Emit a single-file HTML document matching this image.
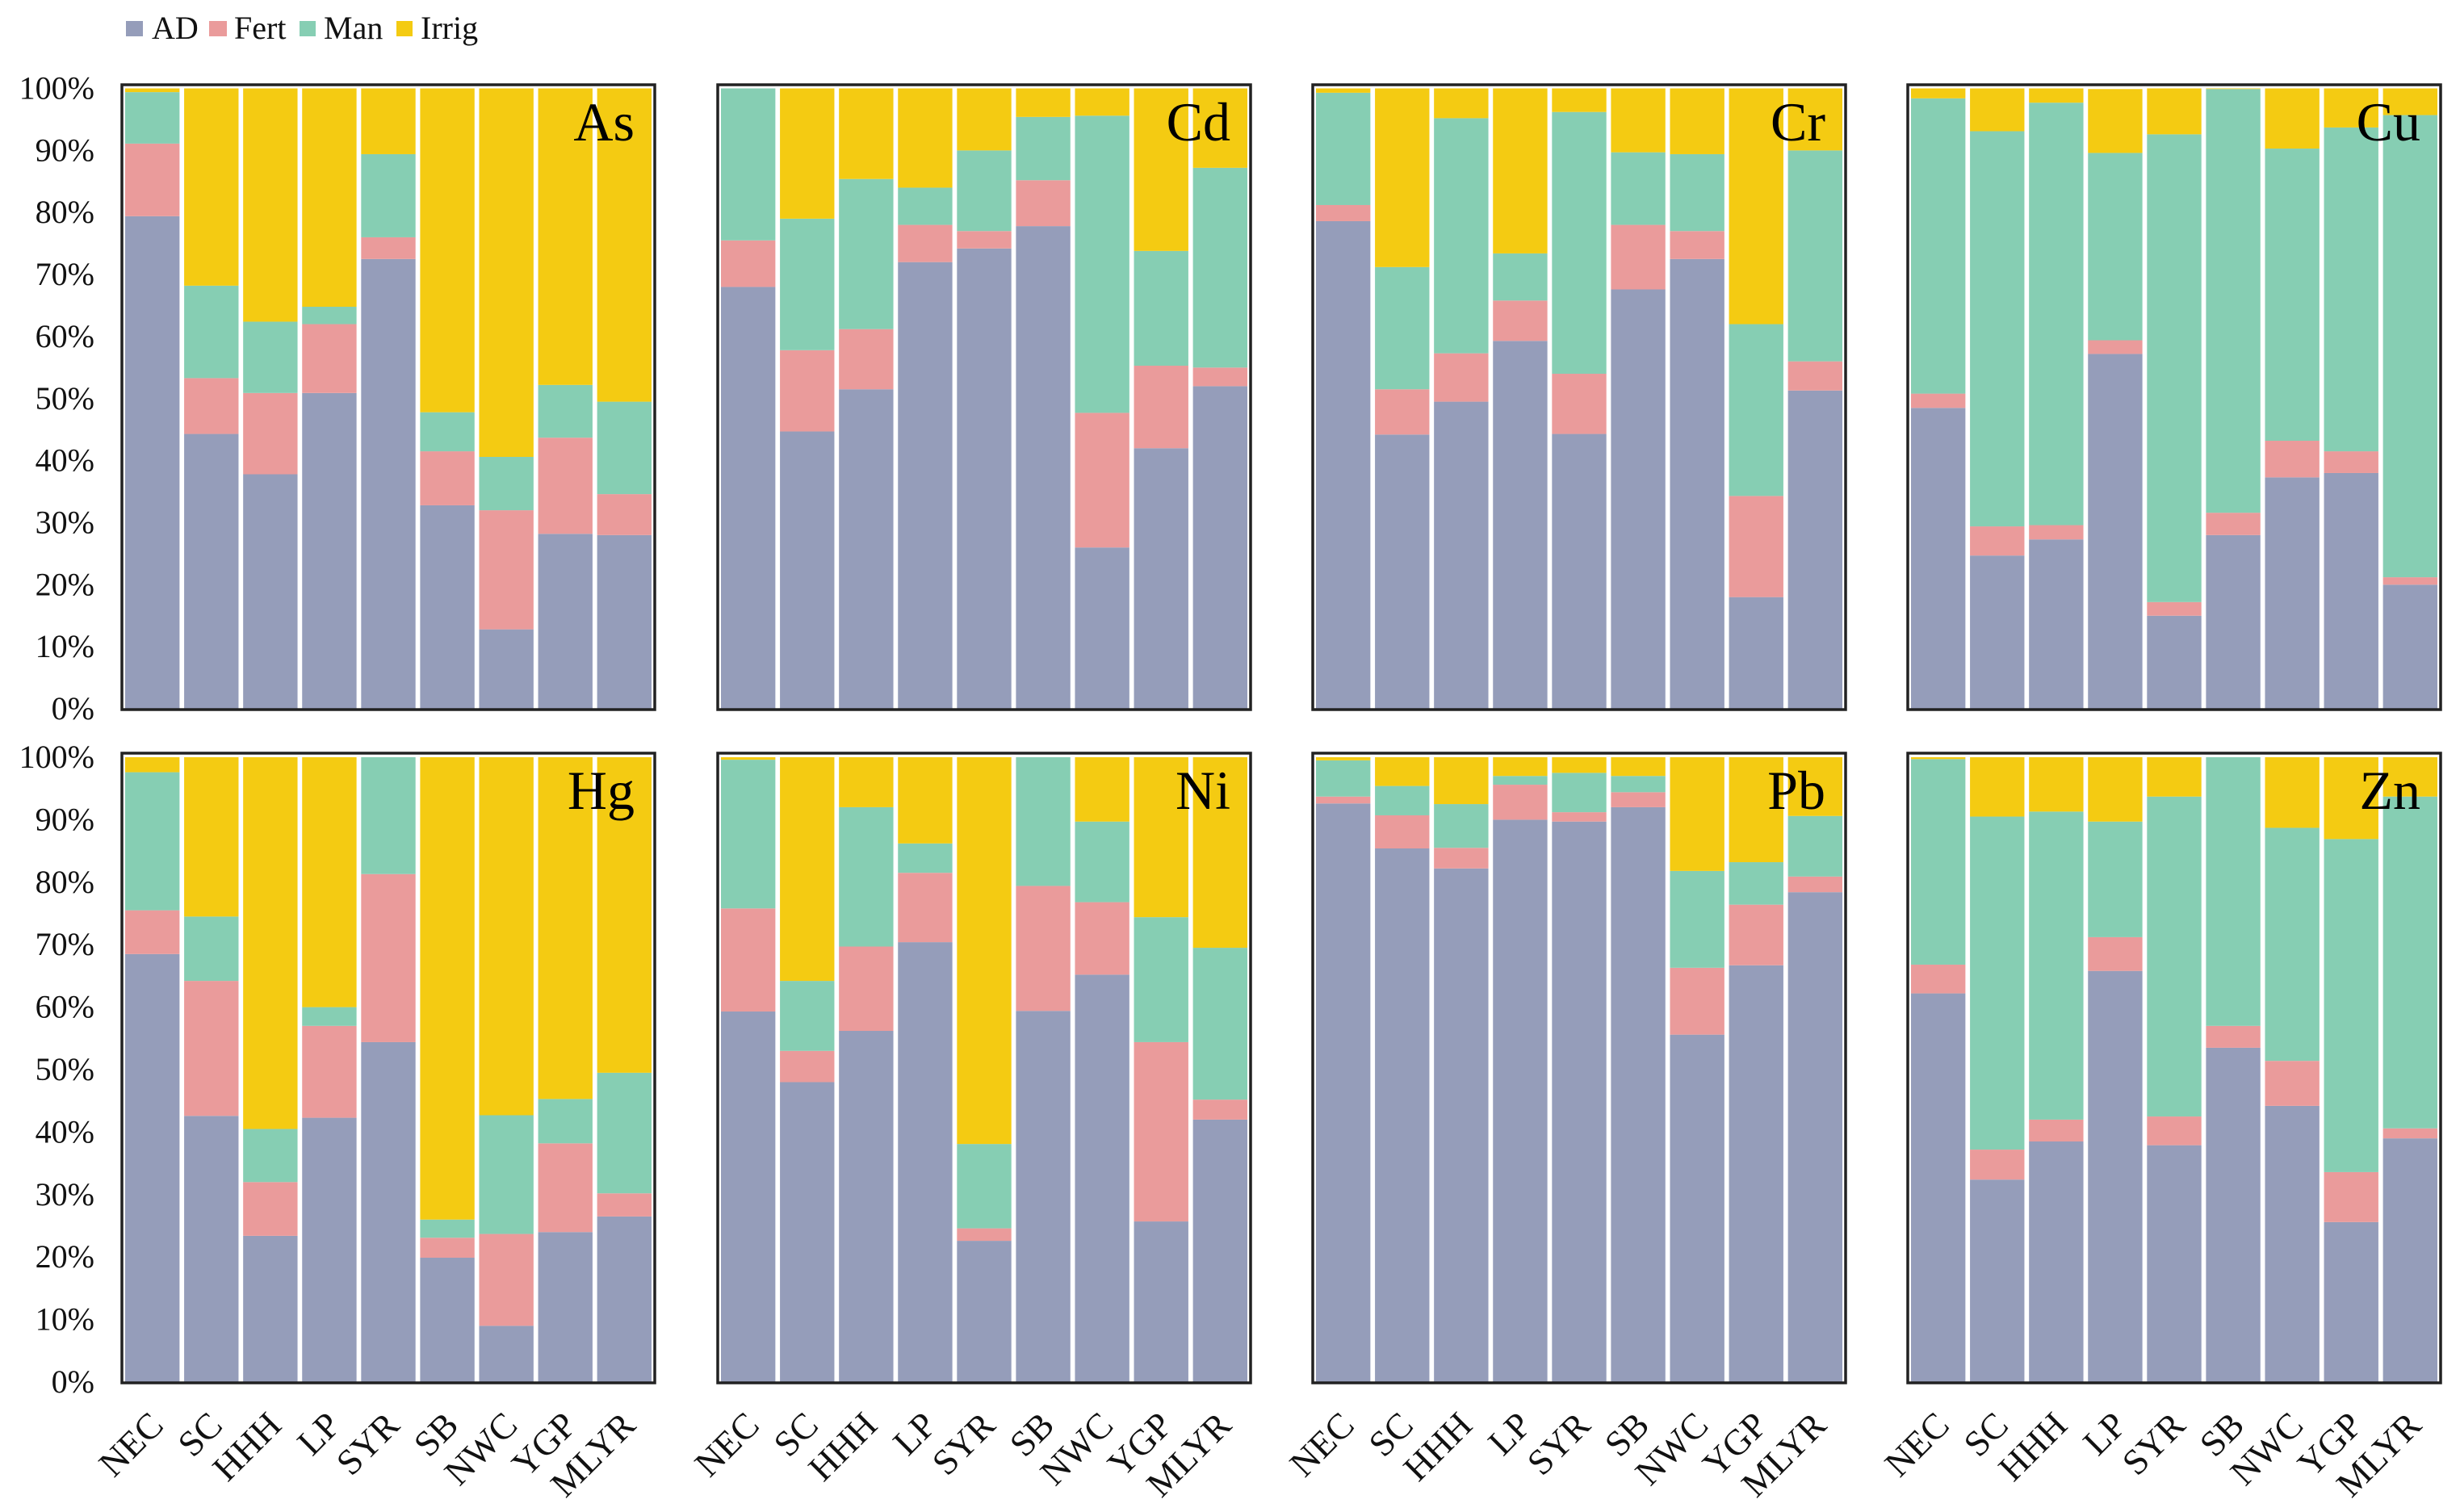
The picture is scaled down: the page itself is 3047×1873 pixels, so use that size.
<!DOCTYPE html>
<html lang="en">
<head>
<meta charset="utf-8">
<title>Heavy metal source shares by region</title>
<style>
html,body{margin:0;padding:0;background:#fff;}
svg{display:block;font-family:"Liberation Serif",serif;}
</style>
</head>
<body>
<svg id="chart" xmlns="http://www.w3.org/2000/svg" width="3047" height="1873" viewBox="0 0 3047 1873">
  <g font-size="40" fill="#111">
    <rect x="156" y="26" width="21" height="19" fill="#959dba"/>
    <text x="188" y="48">AD</text>
    <rect x="259" y="26" width="22" height="19" fill="#ea9b9b"/>
    <text x="290" y="48">Fert</text>
    <rect x="371" y="26" width="20" height="19" fill="#86ceb3"/>
    <text x="401" y="48">Man</text>
    <rect x="491" y="26" width="20" height="19" fill="#f4cb12"/>
    <text x="521" y="48">Irrig</text>
  </g>
</svg>
<script>
const categories = ['NEC','SC','HHH','LP','SYR','SB','NWC','YGP','MLYR'];
const yTicks = [0,10,20,30,40,50,60,70,80,90,100];
const metals = ['As','Cd','Cr','Cu','Hg','Ni','Pb','Zn'];
const seriesNames = ['AD','Fert','Man','Irrig'];

const As_AD = [79.4,44.3,37.8,50.9,72.5,32.8,12.8,28.2,28.0];
const As_Fert = [11.7,9.0,13.1,11.1,3.5,8.7,19.2,15.5,6.6];
const As_Man = [8.3,14.9,11.5,2.8,13.4,6.3,8.6,8.5,14.9];
const As_Irrig = [0.6,31.8,37.6,35.2,10.6,52.2,59.4,47.8,50.5];

const Cd_AD = [68,44.7,51.5,72,74.2,77.8,26,42,52];
const Cd_Fert = [7.5,13.1,9.7,6,2.8,7.4,21.7,13.3,3];
const Cd_Man = [24.5,21.2,24.2,6,13,10.2,47.9,18.5,32.2];
const Cd_Irrig = [0,21,14.6,16,10,4.6,4.4,26.2,12.8];

const Cr_AD = [78.6,44.2,49.5,59.3,44.3,67.6,72.5,18,51.3];
const Cr_Fert = [2.6,7.3,7.8,6.5,9.7,10.4,4.5,16.3,4.7];
const Cr_Man = [18.1,19.7,37.9,7.6,42.2,11.7,12.4,27.7,34];
const Cr_Irrig = [0.7,28.8,4.8,26.6,3.8,10.3,10.6,38,10];

const Cu_AD = [48.5,24.7,27.3,57.2,15,28,37.3,38,20];
const Cu_Fert = [2.3,4.7,2.3,2.2,2.2,3.6,5.9,3.5,1.2];
const Cu_Man = [47.6,63.7,68.1,30.2,75.4,68.3,47.1,52.2,74.5];
const Cu_Irrig = [1.6,6.9,2.3,10.3,7.4,0.1,9.7,6.3,4.3];

const Hg_AD = [68.5,42.6,23.4,42.3,54.4,19.9,9,24,26.5];
const Hg_Fert = [7,21.6,8.6,14.7,26.9,3.2,14.7,14.2,3.7];
const Hg_Man = [22.1,10.3,8.5,3,18.7,2.9,19,7.1,19.3];
const Hg_Irrig = [2.4,25.5,59.5,40,0,74,57.3,54.7,50.5];

const Ni_AD = [59.3,48,56.2,70.4,22.6,59.4,65.2,25.7,42];
const Ni_Fert = [16.5,5,13.5,11.1,2,20,11.6,28.7,3.2];
const Ni_Man = [23.8,11.2,22.3,4.7,13.5,20.6,12.9,20,24.3];
const Ni_Irrig = [0.4,35.8,8,13.8,61.9,0,10.3,25.6,30.5];

const Pb_AD = [92.6,85.4,82.2,90,89.7,92,55.6,66.7,78.4];
const Pb_Fert = [1.1,5.3,3.3,5.6,1.5,2.4,10.7,9.7,2.5];
const Pb_Man = [5.8,4.7,7,1.4,6.3,2.6,15.5,6.8,9.7];
const Pb_Irrig = [0.5,4.6,7.5,3,2.5,3,18.2,16.8,9.4];

const Zn_AD = [62.2,32.4,38.5,65.8,37.9,53.5,44.2,25.6,39];
const Zn_Fert = [4.6,4.8,3.5,5.4,4.6,3.5,7.2,8,1.6];
const Zn_Man = [32.9,53.3,49.3,18.5,51.2,43,37.3,53.3,53.1];
const Zn_Irrig = [0.3,9.5,8.7,10.3,6.3,0,11.3,13.1,6.3];

const panelSeries = [
  [As_AD,As_Fert,As_Man,As_Irrig],
  [Cd_AD,Cd_Fert,Cd_Man,Cd_Irrig],
  [Cr_AD,Cr_Fert,Cr_Man,Cr_Irrig],
  [Cu_AD,Cu_Fert,Cu_Man,Cu_Irrig],
  [Hg_AD,Hg_Fert,Hg_Man,Hg_Irrig],
  [Ni_AD,Ni_Fert,Ni_Man,Ni_Irrig],
  [Pb_AD,Pb_Fert,Pb_Man,Pb_Irrig],
  [Zn_AD,Zn_Fert,Zn_Man,Zn_Irrig]
];

const NS = 'http://www.w3.org/2000/svg';
const svg = document.getElementById('chart');
const colors = ['#959dba','#ea9b9b','#86ceb3','#f4cb12'];
const colLeft = [151, 889, 1626, 2363];
const panelW = 660;
const rowFrame = [{top:105,bottom:879,y100:109.5,y0:878},{top:933,bottom:1713,y100:938,y0:1712}];

function el(tag, attrs, parent) {
  const node = document.createElementNS(NS, tag);
  for (const k in attrs) node.setAttribute(k, attrs[k]);
  parent.appendChild(node);
  return node;
}
function makeY(frame) {
  return v => frame.y0 - (v / 100) * (frame.y0 - frame.y100);
}
function makeX(left) {
  const inner = left + 4;
  const pitch = (panelW - 8 + 5.7) / categories.length;
  return i => inner + i * pitch;
}
const barW = ((panelW - 8 + 5.7) / categories.length) - 5.7;

metals.forEach((metal, p) => {
  const col = p % 4;
  const rowIdx = Math.floor(p / 4);
  const frame = rowFrame[rowIdx];
  const left = colLeft[col];
  const y = makeY(frame);
  const x = makeX(left);
  const group = el('g', {}, svg);
  
  

  categories.forEach((cat, i) => {
    let base = 0;
    panelSeries[p].forEach((values, s) => {
      const v = values[i];
      const top = base + v;
      if (v > 0) {
        const r = el('rect', {x: x(i).toFixed(2), y: y(top).toFixed(2), width: barW.toFixed(2), height: (y(base) - y(top)).toFixed(2), fill: colors[s]}, group);
        
        
      }
      base = top;
    });
  });

  const border = el('rect', {x: left, y: frame.top, width: panelW, height: frame.bottom - frame.top, fill: 'none', stroke: '#222', 'stroke-width': 3.5}, group);
  
  

  const title = el('text', {x: left + panelW - 25, y: frame.top + 69, 'text-anchor': 'end', 'font-size': 68, fill: '#000'}, group);
  title.textContent = metal;
  
  

  if (col === 0) {
    yTicks.forEach(t => {
      const label = el('text', {x: 117, y: (y(t) + 13).toFixed(1), 'text-anchor': 'end', 'font-size': 40, fill: '#111'}, group);
      label.textContent = t + '%';
      
      
    });
  }

  if (rowIdx === 1) {
    categories.forEach((cat, i) => {
      const cx = x(i) + barW / 2 + 16;
      const cy = 1768;
      const label = el('text', {x: cx.toFixed(1), y: cy, 'text-anchor': 'end', 'font-size': 45, fill: '#111', transform: 'rotate(-45 ' + cx.toFixed(1) + ' ' + cy + ')'}, group);
      label.textContent = cat;
      
      
    });
  }
});
</script>
</body>
</html>
